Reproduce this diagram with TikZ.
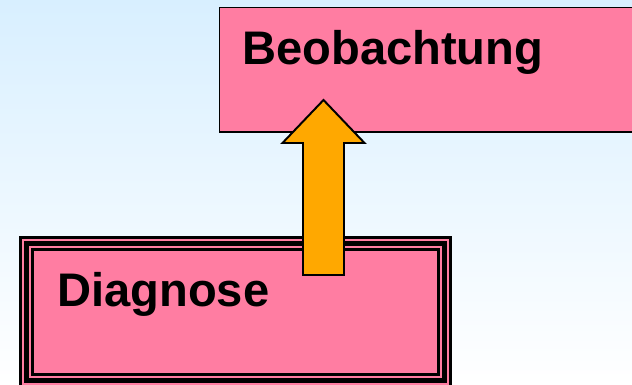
\documentclass[tikz,border=0pt]{standalone}
\usepackage{fontspec}
\setsansfont{Liberation Sans}
\usetikzlibrary{positioning}
\definecolor{skytop}{RGB}{216,239,255}
\definecolor{boxpink}{RGB}{255,125,162}
\definecolor{arroworange}{RGB}{255,168,0}
\tikzset{
  pinkbox/.style={fill=boxpink, inner sep=0pt, outer sep=0pt, anchor=north west},
  boxtext/.style={font=\sffamily\bfseries\fontsize{33.5}{40}\selectfont, inner sep=0pt, anchor=base west},
  uparrow/.style={draw=black, fill=arroworange, line width=1.4pt, line join=miter},
}

\begin{document}
\begin{tikzpicture}[x=0.025cm, y=-0.025cm]
    \clip (0,0) rectangle (632,385);
    \shade[top color=skytop, bottom color=white] (0,0) rectangle (632,385);
    % upper box, runs off to the right
    \node[pinkbox, draw=black, line width=1.4pt, minimum width=11cm, minimum height=3.11cm] (beob) at (219.5,7.5) {};
    \node[boxtext] (beobtext) at (242,65) {Beobachtung};
    % lower box with triple frame
    \node[pinkbox, minimum width=10.825cm, minimum height=3.8cm] (diag) at (19,236) {};
    \foreach \inset/\lw in {1.5/2.2pt, 7.5/3.8pt, 13.5/2.2pt}
        \draw[line width=\lw] ([shift={(\inset,\inset)}]diag.north west) rectangle ([shift={(-\inset,-\inset)}]diag.south east);
    \node[boxtext] (diagtext) at (57,307) {Diagnose};
    % block arrow from Diagnose up into Beobachtung
    \coordinate (tail) at (323.5,275);
    \coordinate (tip) at (323.5,100);
    \draw[uparrow] (tail) ++(-20.5,0) -- ++(0,-132) -- ++(-20.5,0) -- (tip) -- ++(41,43) -- ++(-20.5,0) -- ++(0,132) -- cycle;
\end{tikzpicture}
\end{document}
